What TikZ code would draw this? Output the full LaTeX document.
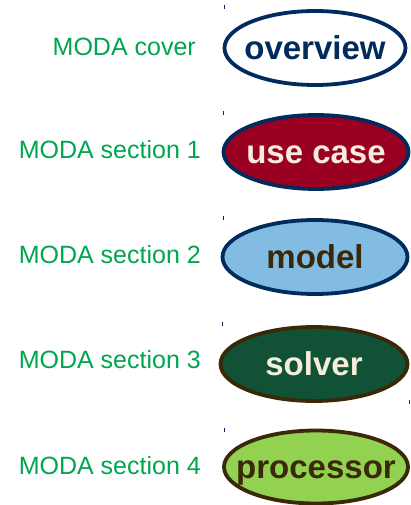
\documentclass[tikz,border=0pt]{standalone}
\usepackage{fontspec}
\setmainfont{Liberation Sans}
\usetikzlibrary{shapes.geometric}
\definecolor{navy}{HTML}{002B5C}
\definecolor{wine}{HTML}{990022}
\definecolor{sky}{HTML}{82BCE2}
\definecolor{pine}{HTML}{115236}
\definecolor{lime}{HTML}{92D250}
\definecolor{bark}{HTML}{3A2808}
\definecolor{cream}{HTML}{F6EEDB}
\definecolor{moda}{HTML}{00A550}
% zero-width label, one x-height tall, so the ellipse size comes only from
% the minimum sizes and the lowercase letters sit on the centre line
\newcommand{\slimlabel}[1]{\makebox[0pt]{\smash{\raisebox{-2.5pt}{#1}}}\rule{0pt}{1ex}}
\tikzset{
  part/.style={ellipse, line width=3.8pt, inner sep=0pt, minimum width=181pt,
    minimum height=74pt, font=\fontsize{33}{38}\selectfont\bfseries},
  tag/.style={anchor=east, text=moda, inner sep=0pt, font=\fontsize{25}{29}\selectfont},
  tick/.style={navy, line width=0.8pt}
}
\begin{document}
\begin{tikzpicture}[x=1pt,y=-1pt]
\useasboundingbox (0,0) rectangle (410,505);
\node[part, draw=navy, fill=white, text=navy] (ov) at (315,48) {\slimlabel{overview}};
\node[part, draw=navy, fill=wine, text=cream, minimum width=185pt] (uc) at (316,152) {\slimlabel{use case}};
\node[part, draw=navy, fill=sky, text=bark, minimum width=185pt] (mo) at (315,257) {\slimlabel{model}};
\node[part, draw=bark, fill=pine, text=cream, minimum width=187pt] (so) at (314,364) {\slimlabel{solver}};
\node[part, draw=bark, fill=lime, text=bark, minimum width=184pt, minimum height=73pt] (pr) at (316,467) {\slimlabel{processor}};
\node[tag] (lov) at (196,47) {MODA cover};
\node[tag] (luc) at (201,150) {MODA section 1};
\node[tag] (lmo) at (201,255) {MODA section 2};
\node[tag] (lso) at (201,360) {MODA section 3};
\node[tag] (lpr) at (201,466) {MODA section 4};
% small registration ticks
\draw[tick] (224,5) -- (224,9);
\draw[tick] (223,111) -- (223,115);
\draw[tick] (223,216) -- (223,220);
\draw[tick] (222,322) -- (222,326);
\draw[tick] (224,428) -- (224,432);
\draw[tick, bark] (409,400) -- (409,404);
\end{tikzpicture}
\end{document}
